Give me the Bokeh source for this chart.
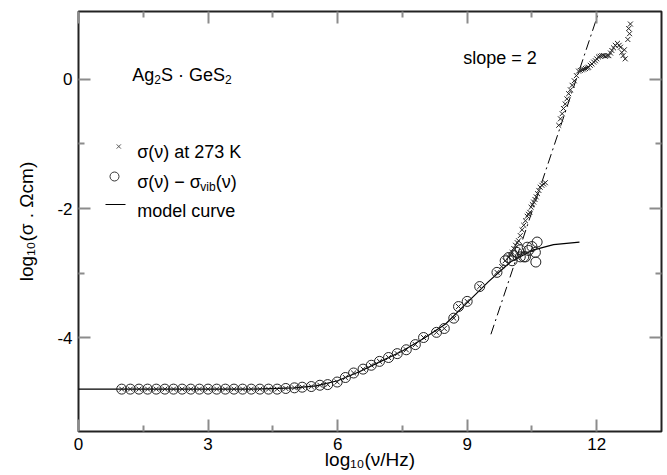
import math
from bokeh.plotting import figure
from bokeh.models import Label, LinearAxis, FixedTicker, Range1d
from bokeh.embed import file_html
from bokeh.resources import INLINE

# ---------------- data ----------------
# points shared by both series (crossed circles)
shared_x = [1.0, 1.2, 1.4, 1.6, 1.8, 2.0, 2.2, 2.4, 2.6, 2.8, 3.0, 3.2, 3.4, 3.6, 3.8,
            4.0, 4.2, 4.4, 4.6, 4.8, 5.0,
            5.18, 5.39, 5.59, 5.77, 5.99, 6.18, 6.37, 6.59, 6.78, 6.97, 7.18, 7.38,
            7.59, 7.80, 7.99, 8.29, 8.47, 8.69, 8.80, 9.00, 9.29, 9.69]
shared_y = [-4.80, -4.80, -4.80, -4.80, -4.80, -4.80, -4.80, -4.80, -4.80, -4.80, -4.80,
            -4.80, -4.80, -4.80, -4.80, -4.80, -4.80, -4.80, -4.80, -4.79, -4.78,
            -4.77, -4.76, -4.74, -4.73, -4.69, -4.62, -4.55, -4.49, -4.43, -4.37, -4.31,
            -4.25, -4.19, -4.11, -4.00, -3.92, -3.86, -3.70, -3.52, -3.44, -3.21, -2.99]

# sigma - sigma_vib, high-frequency cluster
circ_hf_x = [9.88, 9.96, 10.04, 10.08, 10.15, 10.23, 10.23, 10.31, 10.35, 10.39, 10.42,
             10.50, 10.58, 10.62, 10.59]
circ_hf_y = [-2.81, -2.76, -2.81, -2.73, -2.68, -2.64, -2.75, -2.75, -2.75, -2.60, -2.65,
             -2.59, -2.68, -2.52, -2.83]

# sigma at 273 K, high-frequency part
cross_hf_x = [9.80, 9.88, 9.96, 10.00, 10.04, 10.08, 10.12, 10.16, 10.19, 10.23, 10.27,
              10.31, 10.35, 10.39, 10.42, 10.45, 10.48, 10.51, 10.54, 10.57, 10.60, 10.63,
              10.66, 10.69, 10.73, 10.77, 10.81,
              11.12, 11.16, 11.20, 11.23, 11.27, 11.31, 11.35, 11.39, 11.43, 11.48, 11.53,
              11.58, 11.62, 11.66, 11.70, 11.74, 11.78, 11.81, 11.85, 11.89, 11.93, 11.97,
              12.00, 12.04, 12.08, 12.12, 12.16, 12.20, 12.24, 12.28, 12.32, 12.35, 12.39,
              12.43, 12.48, 12.52, 12.55, 12.58, 12.61, 12.64, 12.66, 12.72, 12.76, 12.74,
              12.78]
cross_hf_y = [-2.90, -2.81, -2.75, -2.72, -2.68, -2.62, -2.57, -2.53, -2.50, -2.42, -2.33,
              -2.26, -2.19, -2.12, -2.09, -2.06, -1.98, -1.94, -1.90, -1.86, -1.82, -1.77,
              -1.72, -1.67, -1.64, -1.62, -1.60,
              -0.71, -0.61, -0.53, -0.45, -0.38, -0.30, -0.22, -0.16, -0.09, -0.02, 0.06,
              0.13, 0.14, 0.15, 0.16, 0.17, 0.18, 0.19, 0.22, 0.24, 0.27, 0.29,
              0.32, 0.35, 0.36, 0.37, 0.37, 0.36, 0.37, 0.37, 0.41, 0.45, 0.49,
              0.53, 0.56, 0.53, 0.50, 0.42, 0.37, 0.46, 0.32, 0.62, 0.71, 0.79,
              0.86]

# model curve
model_x = [0.0, 4.0, 5.0, 5.5, 6.0, 6.5, 7.0, 7.5, 8.0, 8.5, 9.0, 9.5, 10.0, 10.5, 11.0, 11.6]
model_y = [-4.80, -4.80, -4.78, -4.75, -4.67, -4.53, -4.37, -4.21, -4.01, -3.79, -3.46,
           -3.13, -2.83, -2.65, -2.56, -2.52]

# slope = 2 guide line
slope_x = [9.55, 12.05]
slope_y = [-3.95, 1.05]

x_ticks = [0, 3, 6, 9, 12]
x_tick_labels = ["0", "3", "6", "9", "12"]
x_minor = [1.5, 4.5, 7.5, 10.5]
y_ticks = [-4, -2, 0]
y_tick_labels = ["-4", "-2", "0"]
y_minor = [-3, -1]

x_title = "log₁₀(ν/Hz)"
y_title = "log₁₀(σ . Ωcm)"

# ---------------- layout ----------------
FONT = "Liberation Sans"
W, H = 667, 475
BL, BR, BT, BB = 78, 6, 11, 44
X0, X1 = 0.0, 13.5
Y0, Y1 = -5.457, 1.054
FL, FT = BL, BT
FW, FH = W - BL - BR, H - BT - BB
FB = FT + FH

p = figure(width=W, height=H, x_range=Range1d(X0, X1), y_range=Range1d(Y0, Y1),
           output_backend="svg", toolbar_location=None,
           x_axis_type=None, y_axis_type=None,
           min_border_left=BL, min_border_right=BR, min_border_top=BT, min_border_bottom=BB)
p.outline_line_color = "#222222"
p.outline_line_width = 2
p.background_fill_color = "white"
p.border_fill_color = "white"

TICK_COL = "#8c8c8c"


def make_axis(ticks, minor, labels, show, title=None, title_standoff=0):
    ax = LinearAxis(ticker=FixedTicker(ticks=ticks, minor_ticks=minor))
    ax.axis_line_color = None
    ax.major_tick_in = 12
    ax.major_tick_out = 0
    ax.minor_tick_in = 6
    ax.minor_tick_out = 0
    ax.major_tick_line_color = TICK_COL
    ax.minor_tick_line_color = TICK_COL
    ax.major_tick_line_width = 2
    ax.minor_tick_line_width = 2
    if show:
        ax.major_label_overrides = {t: l for t, l in zip(ticks, labels)}
        ax.major_label_text_font = FONT
        ax.major_label_text_font_size = "17px"
        ax.major_label_text_color = "black"
        ax.major_label_standoff = 6
    else:
        ax.major_label_text_font_size = "0px"
        ax.major_label_standoff = 0
        ax.major_label_text_alpha = 0
    if title is not None:
        ax.axis_label = title
        ax.axis_label_text_font = FONT
        ax.axis_label_text_font_size = "19px"
        ax.axis_label_text_font_style = "normal"
        ax.axis_label_text_color = "black"
        ax.axis_label_standoff = title_standoff
    return ax


p.add_layout(make_axis(x_ticks, x_minor, x_tick_labels, True, x_title, -4), "below")
p.add_layout(make_axis(y_ticks, y_minor, y_tick_labels, True, y_title, 17), "left")
p.add_layout(make_axis(x_ticks, x_minor, x_tick_labels, False), "above")
p.add_layout(make_axis(y_ticks, y_minor, y_tick_labels, False), "right")

# ---------------- glyphs ----------------
p.line(slope_x, slope_y, line_color="black", line_width=1, line_dash="10 4 2 4")
p.line(model_x, model_y, line_color="black", line_width=1.2)

circ_x = shared_x + circ_hf_x
circ_y = shared_y + circ_hf_y
cross_x = shared_x + cross_hf_x
cross_y = shared_y + cross_hf_y

p.scatter(circ_x, circ_y, marker="circle", size=10, fill_color=None,
          line_color="#222222", line_width=1)
p.scatter(cross_x, cross_y, marker="x", size=7, line_color="#222222", line_width=1)

# ---------------- text helpers ----------------
ADV = {'l': .222, 'o': .556, 'g': .556, '0': .556, '1': .556, '2': .556, '3': .556,
       '7': .556, '(': .333, ')': .333, 'σ': .6, 'ν': .5, ' ': .278, '.': .278,
       'Ω': .768, 'c': .5, 'm': .833, '/': .278, 'H': .722, 'z': .5, 'A': .667,
       'S': .667, '·': .333, 'G': .778, 'e': .556, 'a': .556, 't': .278, 'K': .667,
       '−': .584, 'v': .5, 'i': .222, 'b': .556, 'd': .556, 'u': .556, 'r': .333,
       'p': .556, 's': .5, '=': .584}


def tw(s, size):
    return sum(ADV.get(ch, .556) for ch in s) * size


def to_screen(px, py):
    # page pixel -> screen units of the frame (origin bottom-left, y up)
    return px - FL, FB - py


def to_data(px, py):
    return X0 + (px - FL) / FW * (X1 - X0), Y1 - (py - FT) / FH * (Y1 - Y0)


def runs(segs, px, py):
    """segs: (text, size, drop). px,py: page position of the start on the baseline."""
    sx, sy = to_screen(px, py)
    pos = 0.0
    for t, sz, drop in segs:
        p.add_layout(Label(x=sx + pos, y=sy - drop, x_units="screen", y_units="screen",
                           text=t, text_font=FONT, text_font_size=f"{sz}px",
                           text_align="left", text_baseline="alphabetic",
                           text_color="black"))
        pos += tw(t, sz)


# compound name
runs([("Ag", 18, 0), ("2", 12, 5), ("S · GeS", 18, 0), ("2", 12, 5)], 131.7, 74.3)
# slope annotation
runs([("slope = 2", 18, 0)], 462.7, 57.3)

# legend keys
lx, ly = to_data(118.3, 146)
p.scatter([lx], [ly], marker="x", size=6, line_color="#555555", line_width=1)
cx, cy = to_data(114, 176)
p.scatter([cx], [cy], marker="circle", size=9, fill_color=None, line_color="#333333",
          line_width=1)
ax0, ay0 = to_data(105, 204)
ax1, _ = to_data(125, 204)
p.line([ax0, ax1], [ay0, ay0], line_color="black", line_width=1.2)

runs([("σ(ν) at 273 K", 18, 0)], 136.7, 151.7)
runs([("σ(ν) − σ", 18, 0), ("vib", 12, 5), ("(ν)", 18, 0)], 136.7, 181.7)
runs([("model curve", 18, 0)], 136.7, 210.0)

open("out.html", "w").write(file_html(p, INLINE))
